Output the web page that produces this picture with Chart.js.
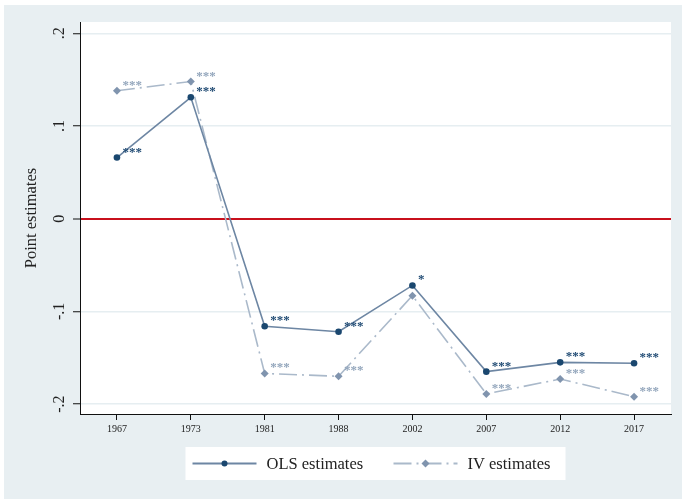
<!DOCTYPE html>
<html>
<head>
<meta charset="utf-8">
<script src="https://cdn.jsdelivr.net/npm/chart.js@4/dist/chart.umd.min.js"></script>
<style>
  html, body { margin: 0; padding: 0; background: #ffffff; }
  #wrap { width: 682px; height: 499px; }
</style>
</head>
<body>
<div id="wrap"><canvas id="chart" width="682" height="499"></canvas></div>
<script>
// Survey years on the horizontal axis
const years = ['1967', '1973', '1981', '1988', '2002', '2007', '2012', '2017'];

// Point estimates by year
const olsEstimates = [0.066, 0.131, -0.116, -0.122, -0.072, -0.165, -0.155, -0.156];
const ivEstimates  = [0.138, 0.148, -0.167, -0.170, -0.083, -0.189, -0.173, -0.192];

// Significance stars shown beside each estimate
const olsStars = ['***', '***', '***', '***', '*', '***', '***', '***'];
const ivStars  = ['***', '***', '***', '***', '', '***', '***', '***'];

// Labelled values on the vertical axis
const yTickValues = [-0.2, -0.1, 0, 0.1, 0.2];

const SERIF = "'Liberation Serif', 'Times New Roman', Times, serif";
const BG = '#e8eff2';
const OLS_LINE = '#6d86a3';
const OLS_MARK = '#1a476f';
const IV_LINE = '#aab9ca';
const IV_MARK = '#8094ae';
const IV_DASH = [18, 5, 2, 5];

// Stata-style tick text: ".2", "-.1", "0"
function fmtTick(v) {
  if (Math.abs(v) < 1e-9) return '0';
  const s = String(Math.abs(Math.round(v * 10) / 10)).replace(/^0/, '');
  return (v < 0 ? '-' : '') + s;
}

// Graph region and plot region backgrounds
const backgroundPlugin = {
  id: 'backgrounds',
  beforeDraw(chart) {
    const { ctx, chartArea: a } = chart;
    ctx.save();
    ctx.fillStyle = '#ffffff';
    ctx.fillRect(0, 0, chart.width, chart.height);
    ctx.fillStyle = BG;
    ctx.fillRect(4, 5, chart.width - 4, chart.height - 5);
    ctx.fillStyle = '#ffffff';
    ctx.fillRect(a.left, a.top, a.right - a.left, a.bottom - a.top);
    ctx.restore();
  }
};

// Rotated y tick labels placed from the y scale
const yLabelsPlugin = {
  id: 'yLabels',
  afterDraw(chart) {
    const { ctx } = chart;
    const y = chart.scales.y;
    ctx.save();
    ctx.fillStyle = '#222';
    ctx.font = '16px ' + SERIF;
    ctx.textAlign = 'center';
    ctx.textBaseline = 'alphabetic';
    y.ticks.forEach(t => {
      const py = y.getPixelForValue(t.value);
      ctx.save();
      ctx.translate(y.right - 16, py);
      ctx.rotate(-Math.PI / 2);
      ctx.fillText(fmtTick(t.value), 0, 0);
      ctx.restore();
    });
    ctx.restore();
  }
};

// Star labels at the upper right of each marker
const starsPlugin = {
  id: 'stars',
  afterDatasetsDraw(chart) {
    const { ctx } = chart;
    ctx.save();
    ctx.font = 'bold 13px ' + SERIF;
    ctx.textAlign = 'left';
    ctx.textBaseline = 'alphabetic';
    chart.data.datasets.forEach((ds, i) => {
      const meta = chart.getDatasetMeta(i);
      ctx.fillStyle = ds.starColor;
      meta.data.forEach((pt, j) => {
        if (ds.stars[j]) ctx.fillText(ds.stars[j], pt.x + 5.5, pt.y - 2);
      });
    });
    ctx.restore();
  }
};

// Legend box below the plot: line sample with marker, then label
const legendPlugin = {
  id: 'stataLegend',
  afterDraw(chart) {
    const { ctx, chartArea: a } = chart;
    const cx = (a.left + a.right) / 2;
    const boxW = 380, boxH = 33;
    const bx = cx - boxW / 2, by = 447;
    const my = by + boxH / 2;
    ctx.save();
    ctx.fillStyle = '#ffffff';
    ctx.fillRect(bx, by, boxW, boxH);

    const items = [
      { ds: chart.data.datasets[0], x0: bx + 7 },
      { ds: chart.data.datasets[1], x0: bx + 208 }
    ];
    items.forEach(({ ds, x0 }) => {
      const x1 = x0 + 64;
      ctx.strokeStyle = ds.borderColor;
      ctx.lineWidth = 2;
      ctx.setLineDash(ds.borderDash || []);
      ctx.beginPath();
      ctx.moveTo(x0, my);
      ctx.lineTo(x1, my);
      ctx.stroke();
      ctx.setLineDash([]);
      const mx = (x0 + x1) / 2;
      ctx.fillStyle = ds.pointBackgroundColor;
      ctx.beginPath();
      if (ds.pointStyle === 'rectRot') {
        const r = 4;
        ctx.moveTo(mx, my - r);
        ctx.lineTo(mx + r, my);
        ctx.lineTo(mx, my + r);
        ctx.lineTo(mx - r, my);
        ctx.closePath();
      } else {
        ctx.arc(mx, my, 3, 0, Math.PI * 2);
      }
      ctx.fill();
      ctx.fillStyle = '#222';
      ctx.font = '16.5px ' + SERIF;
      ctx.textAlign = 'left';
      ctx.textBaseline = 'middle';
      ctx.fillText(ds.label, x1 + 10, my + 1);
    });
    ctx.restore();
  }
};

new Chart(document.getElementById('chart'), {
  type: 'line',
  data: {
    labels: years,
    datasets: [
      {
        label: 'OLS estimates',
        data: olsEstimates,
        stars: olsStars,
        starColor: '#1f4a73',
        borderColor: OLS_LINE,
        borderWidth: 1.6,
        pointStyle: 'circle',
        pointRadius: 3.3,
        pointBackgroundColor: OLS_MARK,
        pointBorderColor: OLS_MARK,
        pointBorderWidth: 0,
        tension: 0,
        order: 1
      },
      {
        label: 'IV estimates',
        data: ivEstimates,
        stars: ivStars,
        starColor: '#93a6bc',
        borderColor: IV_LINE,
        borderWidth: 1.6,
        borderDash: IV_DASH,
        pointStyle: 'rectRot',
        pointRadius: 4,
        pointBackgroundColor: IV_MARK,
        pointBorderColor: IV_MARK,
        pointBorderWidth: 0,
        tension: 0,
        order: 2
      }
    ]
  },
  options: {
    responsive: false,
    animation: false,
    events: [],
    layout: { padding: { left: 0, top: 22, right: 11, bottom: 0 } },
    plugins: {
      legend: { display: false },
      tooltip: { enabled: false }
    },
    scales: {
      x: {
        type: 'category',
        offset: true,
        grid: {
          offset: false,
          drawOnChartArea: false,
          drawTicks: true,
          tickLength: 6,
          tickColor: '#111',
          tickWidth: 1
        },
        border: { display: true, color: '#111', width: 1 },
        ticks: {
          color: '#222',
          font: { family: SERIF, size: 10 },
          padding: 3,
          maxRotation: 0,
          minRotation: 0
        },
        afterFit(scale) { scale.height = 85; }
      },
      y: {
        min: -0.2107,
        max: 0.2122,
        afterBuildTicks(scale) {
          scale.ticks = yTickValues.map(v => ({ value: v }));
        },
        grid: {
          color: ctx => (ctx.tick && Math.abs(ctx.tick.value) < 1e-9) ? '#c8101c' : '#e6eef1',
          lineWidth: ctx => (ctx.tick && Math.abs(ctx.tick.value) < 1e-9) ? 2 : 1.5,
          drawTicks: true,
          tickLength: 7,
          tickColor: '#111',
          tickWidth: 1
        },
        border: { display: true, color: '#111', width: 1 },
        ticks: { display: false },
        title: {
          display: true,
          text: 'Point estimates',
          color: '#222',
          font: { family: SERIF, size: 16.5 },
          padding: { top: 21.5, bottom: 0 }
        },
        afterFit(scale) { scale.width = 80; }
      }
    }
  },
  plugins: [backgroundPlugin, starsPlugin, yLabelsPlugin, legendPlugin]
});
</script>
</body>
</html>
